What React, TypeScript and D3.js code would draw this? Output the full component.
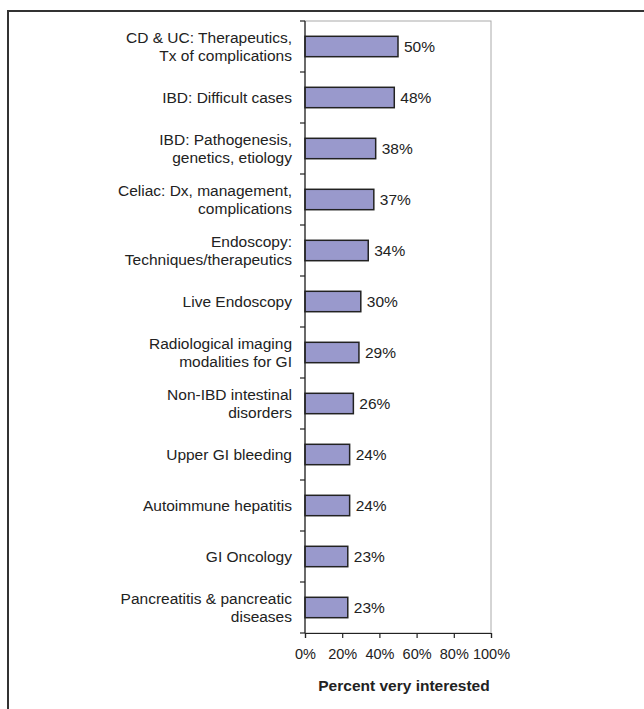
import React, { useEffect, useRef } from "react";
import * as d3 from "d3";

const categories: string[][] = [
  ["CD & UC: Therapeutics,", "Tx of complications"],
  ["IBD: Difficult cases"],
  ["IBD: Pathogenesis,", "genetics, etiology"],
  ["Celiac: Dx, management,", "complications"],
  ["Endoscopy:", "Techniques/therapeutics"],
  ["Live Endoscopy"],
  ["Radiological imaging", "modalities for GI"],
  ["Non-IBD intestinal", "disorders"],
  ["Upper GI bleeding"],
  ["Autoimmune hepatitis"],
  ["GI Oncology"],
  ["Pancreatitis & pancreatic", "diseases"],
];
const values = [50, 48, 38, 37, 34, 30, 29, 26, 24, 24, 23, 23];
const xTicks = [0, 20, 40, 60, 80, 100];
const xTitle = "Percent very interested";

const App: React.FC = () => {
  const ref = useRef<SVGSVGElement>(null);

  useEffect(() => {
    if (!ref.current) return;
    const svg = d3.select(ref.current);
    svg.selectAll("*").remove();

    const width = 644;
    const height = 709;
    const left = 305;
    const right = 491;
    const top = 21;
    const bottom = 633;
    const font = "'Liberation Sans', Arial, sans-serif";
    const fs = 15.5;
    const lineH = 18;

    // outer frame
    svg
      .append("rect")
      .attr("x", 8)
      .attr("y", 11)
      .attr("width", width)
      .attr("height", height)
      .attr("fill", "none")
      .attr("stroke", "#333")
      .attr("stroke-width", 2);

    const x = d3.scaleLinear().domain([0, 100]).range([left, right]);
    const y = d3
      .scaleBand<number>()
      .domain(d3.range(categories.length))
      .range([top, bottom])
      .paddingInner(0.6)
      .paddingOuter(0.3);

    // plot area border
    svg
      .append("rect")
      .attr("x", left)
      .attr("y", top)
      .attr("width", right - left)
      .attr("height", bottom - top)
      .attr("fill", "none")
      .attr("stroke", "#aaa")
      .attr("stroke-width", 1);

    const bandH = (bottom - top) / categories.length;

    // bars
    svg
      .append("g")
      .selectAll("rect")
      .data(values)
      .join("rect")
      .attr("x", x(0))
      .attr("y", (_, i) => y(i)!)
      .attr("width", (d) => x(d) - x(0))
      .attr("height", y.bandwidth())
      .attr("fill", "#9999cc")
      .attr("stroke", "#222")
      .attr("stroke-width", 1.5);

    // value labels
    svg
      .append("g")
      .selectAll("text")
      .data(values)
      .join("text")
      .attr("x", (d) => x(d) + 6)
      .attr("y", (_, i) => y(i)! + y.bandwidth() / 2)
      .attr("dy", "0.35em")
      .attr("font-family", font)
      .attr("font-size", fs)
      .attr("fill", "#222")
      .text((d) => `${d}%`);

    // category labels
    const lab = svg
      .append("g")
      .selectAll("text")
      .data(categories)
      .join("text")
      .attr("text-anchor", "end")
      .attr("font-family", font)
      .attr("font-size", fs)
      .attr("fill", "#222")
      .attr("x", 292)
      .attr("y", (_, i) => y(i)! + y.bandwidth() / 2 + fs * 0.35);
    lab
      .selectAll("tspan")
      .data((d) => d.map((t, j) => ({ t, j, n: d.length })))
      .join("tspan")
      .attr("x", 292)
      .attr("dy", (d) => (d.j === 0 ? -((d.n - 1) * lineH) / 2 : lineH))
      .text((d) => d.t);

    // y axis line and ticks between bands
    const axisG = svg.append("g").attr("stroke", "#222").attr("stroke-width", 1.2);
    axisG
      .append("line")
      .attr("x1", left)
      .attr("x2", left)
      .attr("y1", top)
      .attr("y2", bottom);
    axisG
      .selectAll("line.tick")
      .data(d3.range(categories.length + 1))
      .join("line")
      .attr("class", "tick")
      .attr("x1", left - 5)
      .attr("x2", left)
      .attr("y1", (i) => top + i * bandH)
      .attr("y2", (i) => top + i * bandH);

    // x axis
    const xAxis = svg
      .append("g")
      .attr("transform", `translate(0,${bottom})`)
      .call(
        d3
          .axisBottom(x)
          .tickValues(xTicks)
          .tickSize(5)
          .tickFormat((d) => `${d}%`)
      );
    xAxis.select(".domain").attr("stroke", "#222").attr("stroke-width", 1.2);
    xAxis.selectAll(".tick line").attr("stroke", "#222").attr("stroke-width", 1.2);
    xAxis
      .selectAll(".tick text")
      .attr("font-family", font)
      .attr("font-size", 14.5)
      .attr("fill", "#222")
      .attr("y", 16);

    svg
      .append("text")
      .attr("x", 404)
      .attr("y", 691)
      .attr("text-anchor", "middle")
      .attr("font-family", font)
      .attr("font-size", fs)
      .attr("font-weight", "bold")
      .attr("fill", "#222")
      .text(xTitle);
  }, []);

  return (
    <svg
      ref={ref}
      width={644}
      height={709}
      style={{ position: "absolute", left: 0, top: 0, background: "#fff" }}
    />
  );
};

export default App;
